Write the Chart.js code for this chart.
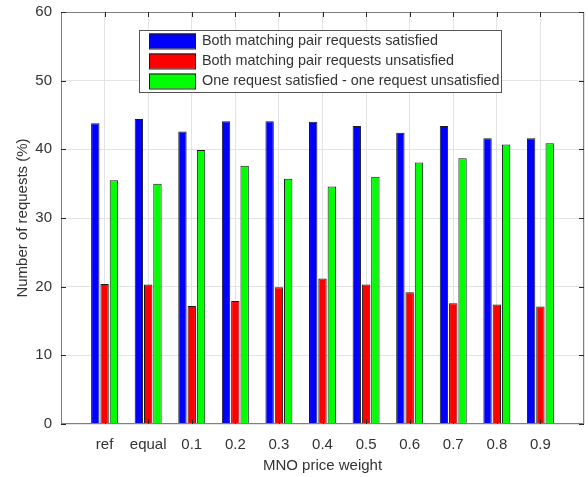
<!DOCTYPE html>
<html>
<head>
<meta charset="utf-8">
<script src="https://cdn.jsdelivr.net/npm/chart.js@4"></script>
<style>
  html, body { margin: 0; padding: 0; background: #fff; }
  #wrap { width: 588px; height: 477px; position: relative; }
</style>
</head>
<body>
<div id="wrap"><canvas id="chart"></canvas></div>
<script>
  // ===== Data =====
  const categories = ['ref', 'equal', '0.1', '0.2', '0.3', '0.4', '0.5', '0.6', '0.7', '0.8', '0.9'];
  const bothSatisfied   = [43.8, 44.4, 42.6, 44.1, 44.1, 44.0, 43.4, 42.4, 43.4, 41.6, 41.6];
  const bothUnsatisfied = [20.4, 20.3, 17.2, 17.9, 19.9, 21.2, 20.3, 19.2, 17.6, 17.4, 17.1];
  const oneEach         = [35.5, 35.0, 39.9, 37.6, 35.7, 34.6, 36.0, 38.1, 38.7, 40.7, 40.9];
  const seriesLabels = [
    'Both matching pair requests satisfied',
    'Both matching pair requests unsatisfied',
    'One request satisfied - one request unsatisfied'
  ];
  const yTicks = [0, 10, 20, 30, 40, 50, 60];

  // ===== Style =====
  const FONT = "'Liberation Sans', Arial, Helvetica, sans-serif";
  const TEXT_COLOR = '#333333';
  const GRID_COLOR = '#e3e3e3';
  const AXIS_COLOR = '#808080';
  const TICK_COLOR = '#262626';
  const EDGE_COLOR = '#1a1a1a';

  const toPoints = (values) => values.map((v, i) => ({ x: i + 1, y: v }));

  // box around plot, inward MATLAB-style ticks, boxed legend
  const matlabAxes = {
    id: 'matlabAxes',
    afterDraw(chart) {
      const { ctx, chartArea: a, scales } = chart;
      ctx.save();

      // axis box
      ctx.strokeStyle = AXIS_COLOR;
      ctx.lineWidth = 1;
      ctx.strokeRect(a.left + 0.5, a.top + 0.5, a.right - a.left - 1, a.bottom - a.top - 1);

      // inward ticks
      ctx.strokeStyle = TICK_COLOR;
      ctx.beginPath();
      yTicks.forEach(t => {
        const y = Math.round(scales.y.getPixelForValue(t)) + 0.5;
        ctx.moveTo(a.left, y); ctx.lineTo(a.left + 5, y);
        ctx.moveTo(a.right, y); ctx.lineTo(a.right - 5, y);
      });
      categories.forEach((c, i) => {
        const x = Math.round(scales.x.getPixelForValue(i + 1)) + 0.5;
        ctx.moveTo(x, a.top); ctx.lineTo(x, a.top + 5);
        ctx.moveTo(x, a.bottom); ctx.lineTo(x, a.bottom - 5);
      });
      ctx.stroke();

      // legend
      const lx = 139, ly = 30, lw = 362, lh = 62;
      ctx.fillStyle = '#ffffff';
      ctx.fillRect(lx, ly, lw, lh);
      ctx.strokeStyle = '#555555';
      ctx.strokeRect(lx + 0.5, ly + 0.5, lw, lh);
      ctx.font = '14.4px ' + FONT;
      ctx.textBaseline = 'middle';
      ctx.textAlign = 'left';
      chart.data.datasets.forEach((ds, i) => {
        const sy = ly + 3.5 + i * 20;
        ctx.fillStyle = ds.backgroundColor;
        ctx.fillRect(lx + 10, sy, 47, 15);
        ctx.strokeStyle = EDGE_COLOR;
        ctx.strokeRect(lx + 10.5, sy + 0.5, 46, 15);
        ctx.fillStyle = TEXT_COLOR;
        ctx.fillText(ds.label, lx + 63, sy + 8);
      });
      ctx.restore();
    }
  };

  const colors = ['#0000ff', '#ff0000', '#00ff00'];
  const seriesValues = [bothSatisfied, bothUnsatisfied, oneEach];

  new Chart(document.getElementById('chart'), {
    type: 'bar',
    data: {
      datasets: seriesValues.map((vals, i) => ({
        label: seriesLabels[i],
        data: toPoints(vals),
        backgroundColor: colors[i],
        borderColor: EDGE_COLOR,
        borderWidth: 1,
        categoryPercentage: 0.64,
        barPercentage: 0.9
      }))
    },
    options: {
      responsive: true,
      maintainAspectRatio: false,
      animation: false,
      layout: { padding: { left: 0, top: 12, right: 4, bottom: 0 } },
      plugins: {
        legend: { display: false },
        tooltip: { enabled: false }
      },
      scales: {
        x: {
          type: 'linear',
          min: 0,
          max: 12,
          offset: false,
          border: { display: false },
          grid: { color: GRID_COLOR, drawTicks: false, offset: false },
          ticks: {
            stepSize: 1,
            autoSkip: false,
            maxRotation: 0,
            padding: 12,
            color: TEXT_COLOR,
            font: { family: FONT, size: 15 },
            callback: (v) => categories[v - 1] ?? ''
          },
          title: {
            display: true,
            text: 'MNO price weight',
            color: TEXT_COLOR,
            font: { family: FONT, size: 15 },
            padding: { top: 2, bottom: 2 }
          },
          afterFit: (scale) => {
            scale.height = 53;
            scale.paddingLeft = 0;
            scale.paddingRight = 0;
          }
        },
        y: {
          min: 0,
          max: 60,
          border: { display: false },
          grid: { color: GRID_COLOR, drawTicks: false },
          ticks: {
            stepSize: 10,
            padding: 9,
            color: TEXT_COLOR,
            font: { family: FONT, size: 15 }
          },
          title: {
            display: true,
            text: 'Number of requests (%)',
            color: TEXT_COLOR,
            font: { family: FONT, size: 15 },
            padding: { top: 14, bottom: 0 }
          },
          afterFit: (scale) => {
            scale.width = 61;
            scale.paddingTop = 0;
            scale.paddingBottom = 0;
          }
        }
      }
    },
    plugins: [matlabAxes]
  });
</script>
</body>
</html>
